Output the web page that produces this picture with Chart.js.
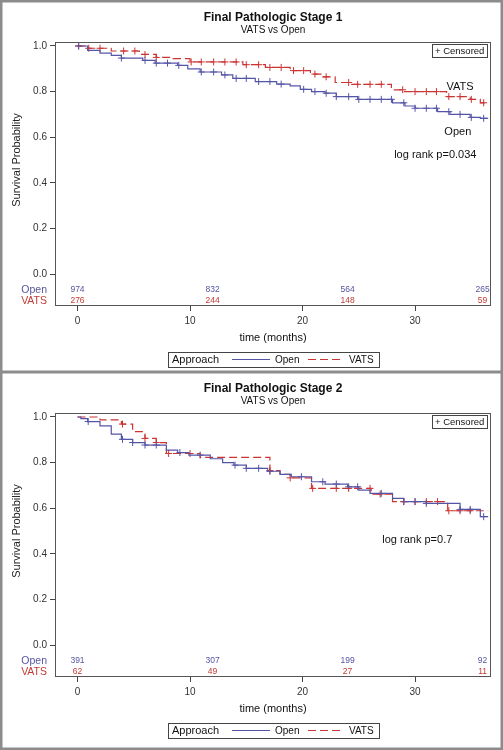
<!DOCTYPE html>
<html>
<head>
<meta charset="utf-8">
<script src="https://cdn.jsdelivr.net/npm/chart.js@4.4.1/dist/chart.umd.min.js"></script>
<style>
  html, body { margin: 0; padding: 0; background: #fff; }
  #wrap { position: relative; width: 503px; height: 750px; overflow: hidden; }
  canvas { position: absolute; left: 0; }
  #c1 { top: 0; }
  #c2 { top: 371px; }
</style>
</head>
<body>
<div id="wrap">
  <canvas id="c1" width="503" height="373"></canvas>
  <canvas id="c2" width="503" height="379"></canvas>
</div>
<script>
// Kaplan-Meier curves by approach (VATS vs Open), stage 1 and stage 2.
const xTicks = [0, 10, 20, 30];
const yTicks = [0, 0.2, 0.4, 0.6, 0.8, 1.0];
const riskTimes = [0, 12, 24, 36];

// stage 1
const open1Times = [0, 0.9, 2.0, 3.0, 3.9, 5.8, 6.9, 8.9, 9.8, 10.9, 12.8, 13.8, 15.8, 17.7, 18.9, 19.8, 20.8, 22.0, 23.0, 24.9, 28.0, 29.1, 30.0, 32.0, 33.1, 34.9, 35.8, 36.5];
const open1Surv = [1.0, 0.981, 0.969, 0.959, 0.947, 0.937, 0.925, 0.915, 0.90, 0.886, 0.873, 0.858, 0.844, 0.833, 0.825, 0.81, 0.80, 0.793, 0.778, 0.766, 0.751, 0.737, 0.727, 0.712, 0.70, 0.687, 0.683, 0.683];
const open1Censor = [0.1, 3.9, 6.0, 7.0, 8.0, 9.0, 11.0, 12.1, 13.1, 14.1, 15.0, 16.1, 17.1, 18.1, 20.1, 21.1, 22.1, 23.0, 24.1, 25.0, 26.0, 27.0, 27.9, 29.0, 30.0, 31.0, 31.9, 33.0, 34.0, 35.0, 36.1];
const vats1Times = [0, 1.0, 3.0, 5.5, 7.0, 8.5, 10.0, 14.7, 16.7, 18.9, 20.7, 21.8, 22.9, 24.2, 27.9, 29.0, 32.8, 34.9, 35.8, 36.5];
const vats1Surv = [1.0, 0.99, 0.978, 0.963, 0.95, 0.945, 0.93, 0.918, 0.906, 0.892, 0.877, 0.865, 0.84, 0.832, 0.808, 0.80, 0.778, 0.766, 0.751, 0.751];
const vats1Censor = [0.1, 1.0, 2.0, 4.1, 5.1, 6.0, 7.0, 10.1, 11.0, 12.1, 13.1, 14.1, 15.0, 16.1, 17.1, 18.1, 19.2, 20.1, 21.1, 22.1, 24.1, 24.9, 26.0, 27.0, 28.9, 30.0, 31.0, 31.9, 33.0, 34.0, 35.0, 36.1];
const open1AtRisk = [974, 832, 564, 265];
const vats1AtRisk = [276, 244, 148, 59];

// stage 2
const open2Times = [0, 0.3, 0.9, 2.0, 3.0, 3.9, 4.9, 6.0, 7.9, 8.9, 9.9, 11.8, 12.9, 13.9, 15.0, 16.9, 18.0, 19.0, 20.8, 22.0, 24.0, 25.0, 26.0, 28.0, 29.0, 31.0, 34.0, 35.8, 36.5];
const open2Surv = [1.0, 0.993, 0.98, 0.961, 0.925, 0.902, 0.888, 0.877, 0.855, 0.844, 0.833, 0.817, 0.80, 0.789, 0.775, 0.762, 0.748, 0.738, 0.716, 0.706, 0.694, 0.679, 0.665, 0.643, 0.629, 0.621, 0.595, 0.563, 0.563];
const open2Censor = [0.95, 4.0, 4.9, 6.0, 7.0, 9.1, 10.9, 14.0, 15.0, 16.1, 17.1, 19.9, 21.8, 23.0, 24.1, 24.9, 27.0, 29.0, 30.0, 31.0, 34.0, 34.9, 36.1];
const vats2Times = [0, 2.0, 3.9, 4.9, 6.0, 7.0, 7.9, 10.9, 17.1, 18.0, 18.9, 20.8, 26.1, 28.0, 32.9, 36.5];
const vats2Surv = [1.0, 0.987, 0.969, 0.936, 0.906, 0.888, 0.84, 0.823, 0.765, 0.748, 0.733, 0.687, 0.662, 0.629, 0.589, 0.589];
const vats2Censor = [4.0, 6.0, 7.0, 8.1, 10.0, 17.1, 18.9, 20.9, 23.0, 24.1, 26.0, 26.9, 29.0, 30.0, 31.0, 32.0, 33.0, 34.0, 34.9];
const open2AtRisk = [391, 307, 199, 92];
const vats2AtRisk = [62, 49, 27, 11];

const FONT = "'Liberation Sans', Arial, sans-serif";
const BLUE = "#5555a8";
const RED = "#cc3333";
const BLUE_TXT = "#55559f";
const RED_TXT = "#c23a32";

const panels = [
  {
    id: "c1", title: "Final Pathologic Stage 1", xHeight: 67,
    openT: open1Times, openS: open1Surv, openC: open1Censor,
    vatsT: vats1Times, vatsS: vats1Surv, vatsC: vats1Censor,
    openRisk: open1AtRisk, vatsRisk: vats1AtRisk,
    notes: [
      { text: "VATS", x: 34.0, y: 0.82 },
      { text: "Open", x: 33.8, y: 0.623 },
      { text: "log rank p=0.034", x: 31.8, y: 0.52 },
    ],
  },
  {
    id: "c2", title: "Final Pathologic Stage 2", xHeight: 73,
    openT: open2Times, openS: open2Surv, openC: open2Censor,
    vatsT: vats2Times, vatsS: vats2Surv, vatsC: vats2Censor,
    openRisk: open2AtRisk, vatsRisk: vats2AtRisk,
    notes: [{ text: "log rank p=0.7", x: 30.2, y: 0.46 }],
  },
];

function steps(times, surv) {
  return times.map((t, i) => ({ x: t, y: surv[i] }));
}

// censored marks sit on the curve at their time
function survAt(times, surv, t) {
  let s = surv[0];
  times.forEach((ti, i) => { if (ti <= t) s = surv[i]; });
  return s;
}

function censored(times, surv, cens) {
  return cens.map((t) => ({ x: t, y: survAt(times, surv, t) }));
}

function makeDecor(p) {
  return {
    id: "decor",
    afterDraw(chart) {
      const { ctx, chartArea: a, scales: { x, y } } = chart;
      const midX = (a.left + a.right) / 2;
      ctx.save();

      ctx.strokeStyle = "#8c8c8c";
      ctx.lineWidth = 2.5;
      ctx.strokeRect(1.25, 1.25, chart.width - 2.5, chart.height - 2.5);

      ctx.strokeStyle = "#555";
      ctx.lineWidth = 1;
      ctx.strokeRect(a.left + 0.5, a.top + 0.5, a.width - 1, a.height - 1);

      ctx.textBaseline = "middle";
      ctx.fillStyle = "#222";
      ctx.font = `11px ${FONT}`;
      ctx.textAlign = "center";
      ctx.save();
      ctx.translate(17, y.getPixelForValue(0.5));
      ctx.rotate(-Math.PI / 2);
      ctx.fillText("Survival Probability", 0, 0);
      ctx.restore();

      // numbers at risk
      const rows = [
        ["Open", p.openRisk, BLUE_TXT, -0.07],
        ["VATS", p.vatsRisk, RED_TXT, -0.118],
      ];
      rows.forEach(([name, counts, col, yv]) => {
        const py = y.getPixelForValue(yv);
        ctx.fillStyle = col;
        ctx.font = `10.5px ${FONT}`;
        ctx.textAlign = "right";
        ctx.fillText(name, a.left - 8, py);
        ctx.font = `8.5px ${FONT}`;
        ctx.textAlign = "center";
        counts.forEach((n, i) => ctx.fillText(String(n), x.getPixelForValue(riskTimes[i]), py));
      });

      ctx.fillStyle = "#111";
      ctx.font = `11px ${FONT}`;
      ctx.textAlign = "center";
      p.notes.forEach((n) => ctx.fillText(n.text, x.getPixelForValue(n.x), y.getPixelForValue(n.y)));

      // "+ Censored" box
      const bx = a.right - 59, by = a.top + 2;
      ctx.strokeStyle = "#444";
      ctx.strokeRect(bx + 0.5, by + 0.5, 55, 13);
      ctx.font = `9.5px ${FONT}`;
      ctx.textAlign = "left";
      ctx.fillText("+ Censored", bx + 3, by + 7.5);

      // bottom legend
      const lx = Math.round(midX - 105.5), ly = a.bottom + 46;
      ctx.strokeRect(lx + 0.5, ly + 0.5, 211, 15);
      ctx.font = `11px ${FONT}`;
      ctx.fillText("Approach", lx + 4, ly + 8);
      ctx.strokeStyle = BLUE;
      ctx.beginPath();
      ctx.moveTo(lx + 64, ly + 7.5);
      ctx.lineTo(lx + 102, ly + 7.5);
      ctx.stroke();
      ctx.strokeStyle = RED;
      ctx.setLineDash([8, 4]);
      ctx.beginPath();
      ctx.moveTo(lx + 140, ly + 7.5);
      ctx.lineTo(lx + 172, ly + 7.5);
      ctx.stroke();
      ctx.setLineDash([]);
      ctx.font = `10px ${FONT}`;
      ctx.fillText("Open", lx + 107, ly + 8);
      ctx.fillText("VATS", lx + 181, ly + 8);

      ctx.restore();
    },
  };
}

function buildChart(p) {
  return new Chart(document.getElementById(p.id), {
    type: "scatter",
    data: {
      datasets: [
        { data: steps(p.openT, p.openS), showLine: true, stepped: "before", borderColor: BLUE, borderWidth: 1.2, pointRadius: 0 },
        { data: steps(p.vatsT, p.vatsS), showLine: true, stepped: "before", borderColor: RED, borderWidth: 1.2, borderDash: [8, 4], pointRadius: 0 },
        { data: censored(p.openT, p.openS, p.openC), showLine: false, pointStyle: "cross", pointRadius: 3.5, borderColor: BLUE, borderWidth: 1 },
        { data: censored(p.vatsT, p.vatsS, p.vatsC), showLine: false, pointStyle: "cross", pointRadius: 3.5, borderColor: RED, borderWidth: 1 },
      ],
    },
    options: {
      responsive: false,
      animation: false,
      devicePixelRatio: 1,
      layout: { padding: { left: 0, right: 12, top: 0, bottom: 0 } },
      plugins: {
        legend: { display: false },
        tooltip: { enabled: false },
        title: {
          display: true, text: p.title, fullSize: false, color: "#111",
          font: { family: FONT, size: 12, weight: "bold" },
          padding: { top: 10, bottom: 0 },
        },
        subtitle: {
          display: true, text: "VATS vs Open", fullSize: false, color: "#111",
          font: { family: FONT, size: 10 },
          padding: { top: 0, bottom: 5.6 },
        },
      },
      scales: {
        x: {
          type: "linear", min: -2, max: 36.75,
          afterBuildTicks: (s) => { s.ticks = xTicks.map((v) => ({ value: v })); },
          afterFit: (s) => { s.height = p.xHeight; },
          ticks: { font: { family: FONT, size: 10 }, color: "#333", padding: 4, maxRotation: 0, callback: (v) => String(v) },
          grid: { drawOnChartArea: false, drawTicks: true, tickLength: 5, color: "#444" },
          border: { display: false },
          title: {
            display: true, text: "time (months)", color: "#111",
            font: { family: FONT, size: 11 },
            padding: { top: 0, bottom: p.xHeight - 38.6 },
          },
        },
        y: {
          min: -0.14, max: 1.0175,
          afterBuildTicks: (s) => { s.ticks = yTicks.map((v) => ({ value: v })); },
          afterFit: (s) => { s.width = 55; },
          ticks: { font: { family: FONT, size: 10 }, color: "#333", padding: 3, callback: (v) => v.toFixed(1) },
          grid: { drawOnChartArea: false, drawTicks: true, tickLength: 5, color: "#444" },
          border: { display: false },
        },
      },
    },
    plugins: [makeDecor(p)],
  });
}

panels.forEach(buildChart);
</script>
</body>
</html>
